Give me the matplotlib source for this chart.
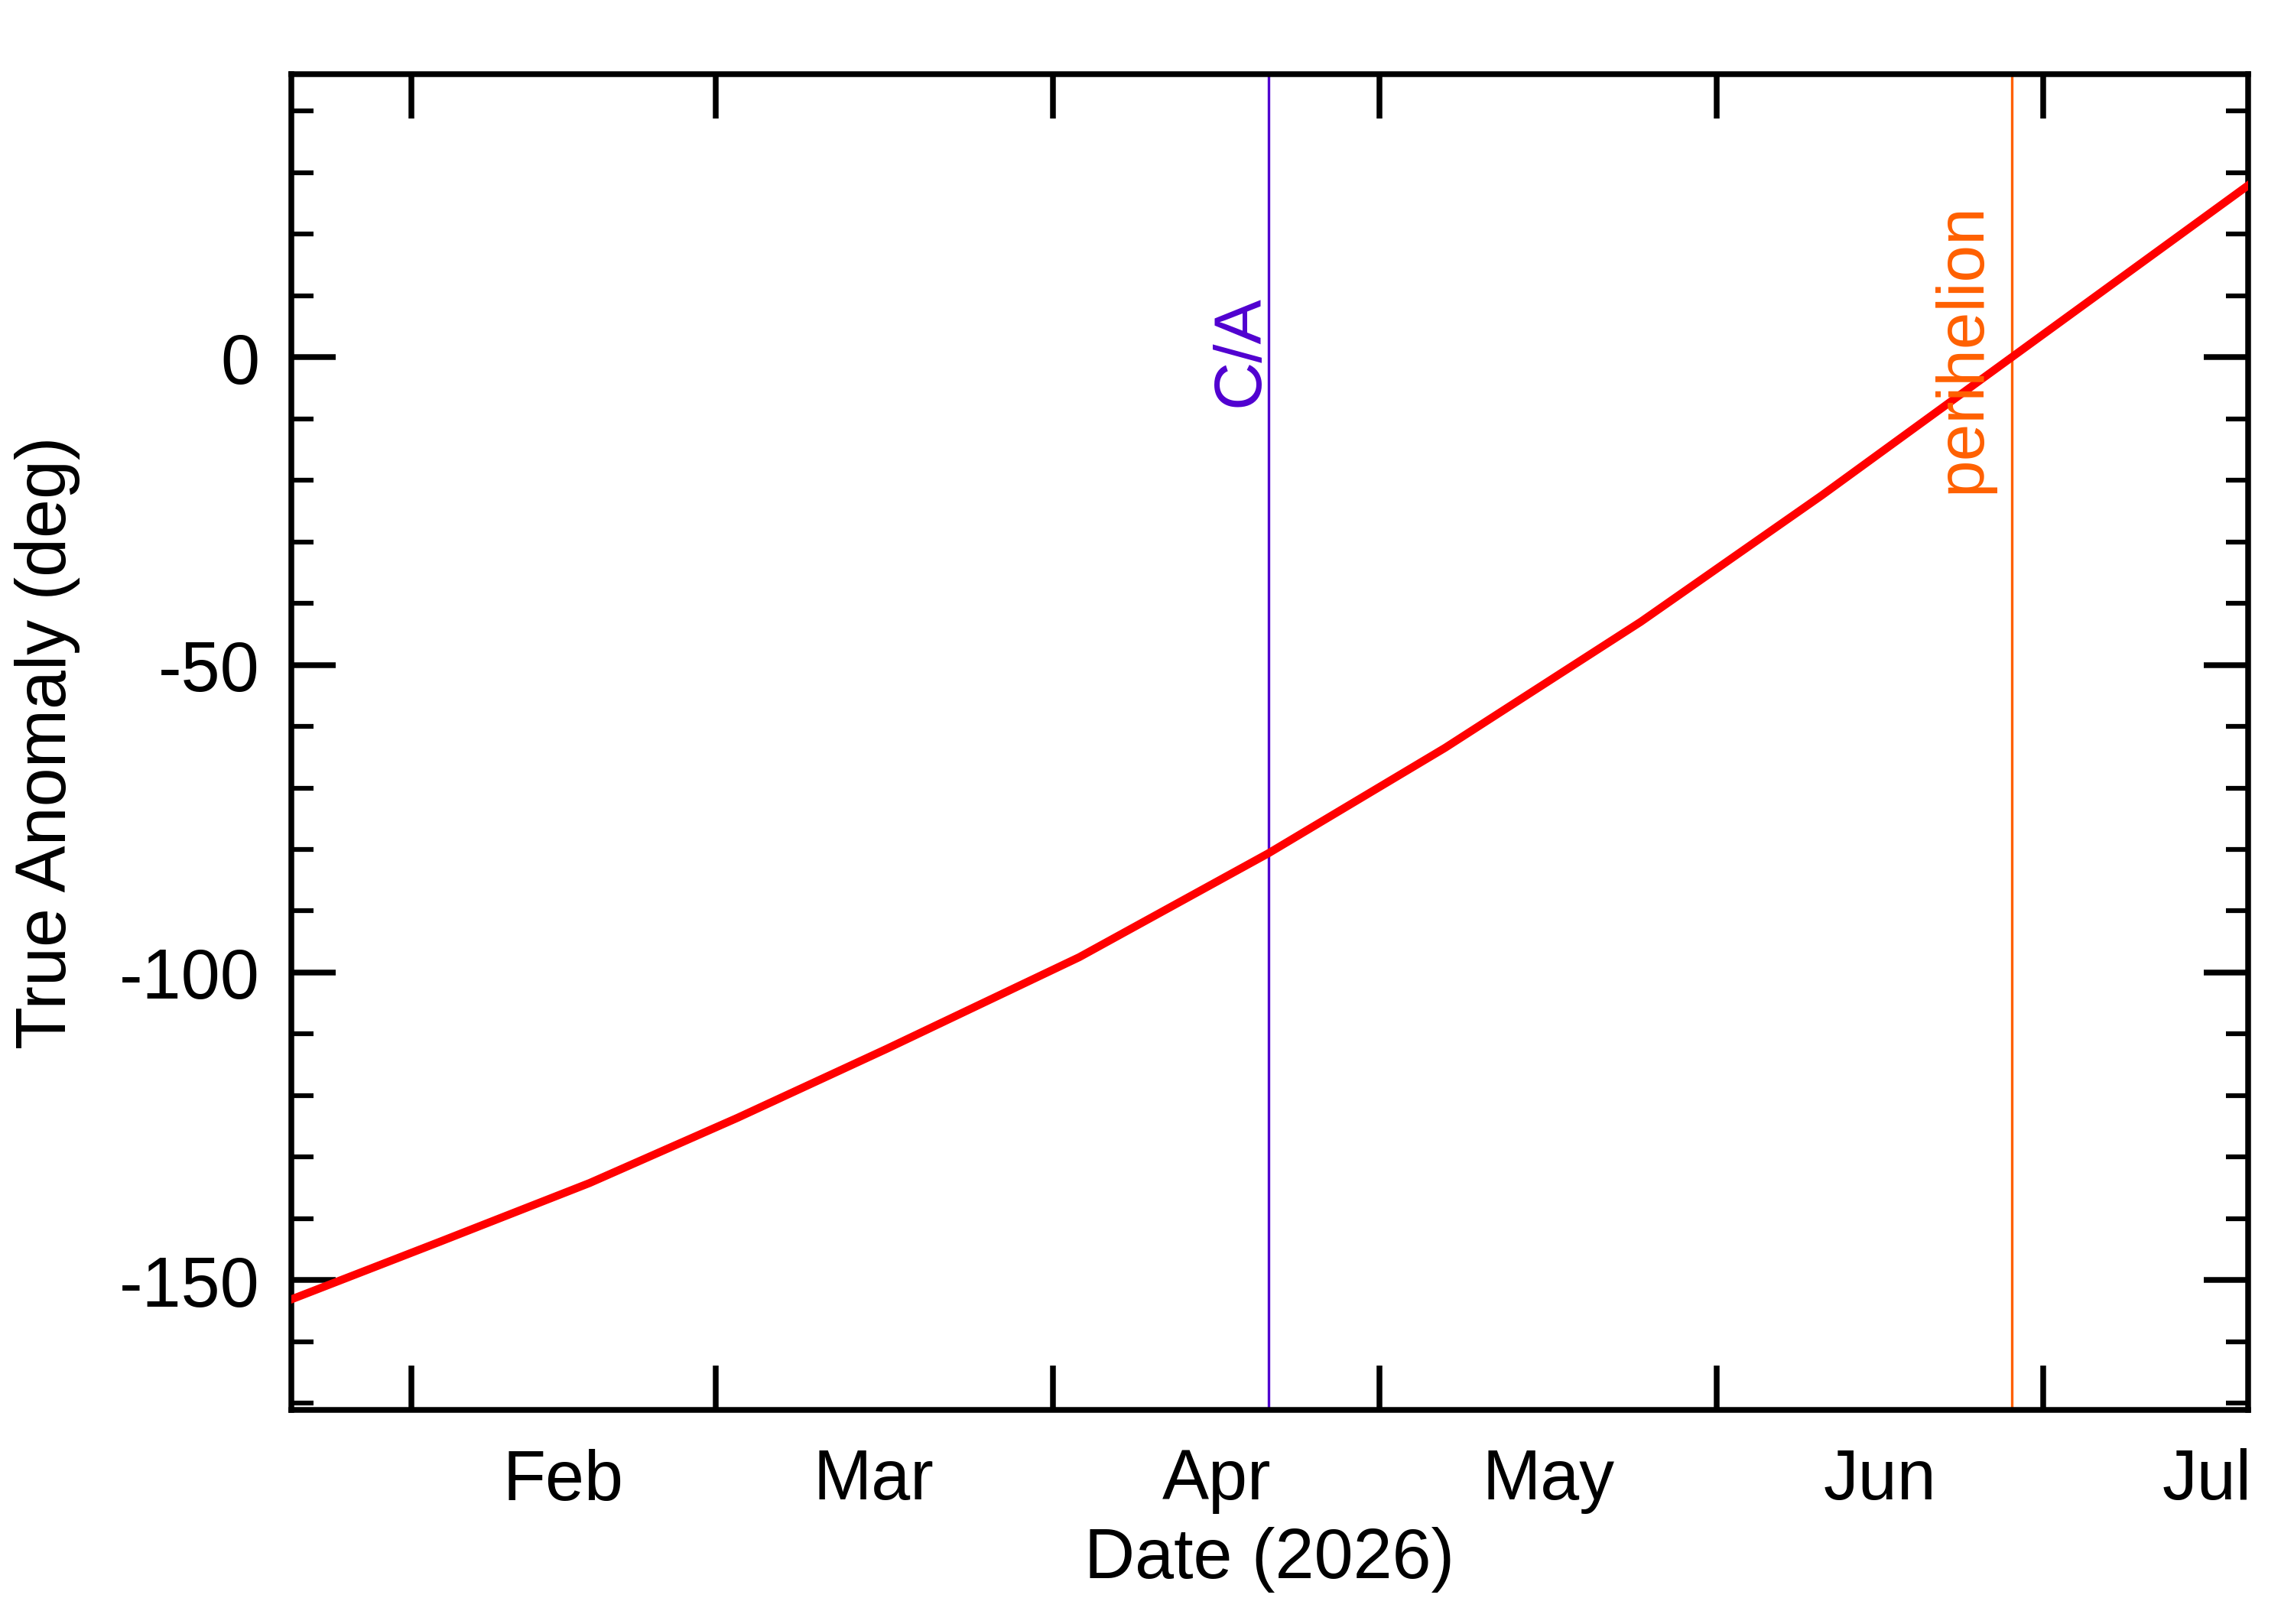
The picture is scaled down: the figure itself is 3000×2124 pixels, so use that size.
import matplotlib
matplotlib.use("Agg")
import matplotlib.pyplot as plt
from matplotlib.ticker import MultipleLocator, FixedLocator, NullFormatter

plt.rcParams['font.family'] = ['Liberation Sans', 'DejaVu Sans']
plt.rcParams['axes.unicode_minus'] = False

# day of year 2026 (Jan 1 = 0)
days = [20.0, 33.7, 47.4, 61.0, 74.7, 92.4, 109.8, 126.0, 144.0, 160.6, 178.1, 199.8]
anomaly = [-153.1, -143.7, -134.2, -123.6, -112.4, -97.5, -80.6, -63.5, -43.0, -22.5, 0.0, 27.9]
month_starts = [31, 59, 90, 120, 151, 181]
label_pos = [45, 73.5, 105, 135.5, 166, 196]
month_labels = ['Feb', 'Mar', 'Apr', 'May', 'Jun', 'Jul']
ca_day = 109.8
peri_day = 178.1

fig = plt.figure(figsize=(10, 7.0833), dpi=300)
ax = fig.add_axes([0.127, 0.132, 0.853, 0.822])
ax.plot(days, anomaly, color='#ff0000', lw=2.5, zorder=3, solid_joinstyle='round')
ax.axvline(ca_day, color='#5000d0', lw=0.8)
ax.axvline(peri_day, color='#ff6000', lw=0.8)
ax.text(ca_day - 2.5, -8, 'C/A', rotation=90, color='#5000d0', fontsize=21, ha='center', va='bottom')
ax.text(peri_day - 4.5, -22, 'perihelion', rotation=90, color='#ff6000', fontsize=21, ha='center', va='bottom')

ax.set_xlim(20, 199.8)
ax.set_ylim(-171, 46)
ax.xaxis.set_major_locator(FixedLocator(month_starts))
ax.xaxis.set_major_formatter(NullFormatter())
ax.xaxis.set_minor_locator(FixedLocator(label_pos))
ax.set_xticklabels(month_labels, minor=True)
ax.tick_params(axis='x', which='minor', length=0, pad=12, labelsize=22)
ax.yaxis.set_major_locator(MultipleLocator(50))
ax.yaxis.set_minor_locator(MultipleLocator(10))
ax.tick_params(which='major', direction='in', length=14, width=1.8, top=True, right=True, labelsize=22, pad=10)
ax.tick_params(axis='y', which='minor', direction='in', length=7, width=1.5, right=True)
for s in ax.spines.values():
    s.set_linewidth(1.8)
ax.set_xlabel('Date (2026)', fontsize=22, labelpad=4)
ax.set_ylabel('True Anomaly (deg)', fontsize=22, labelpad=12)
fig.savefig('out.png')
